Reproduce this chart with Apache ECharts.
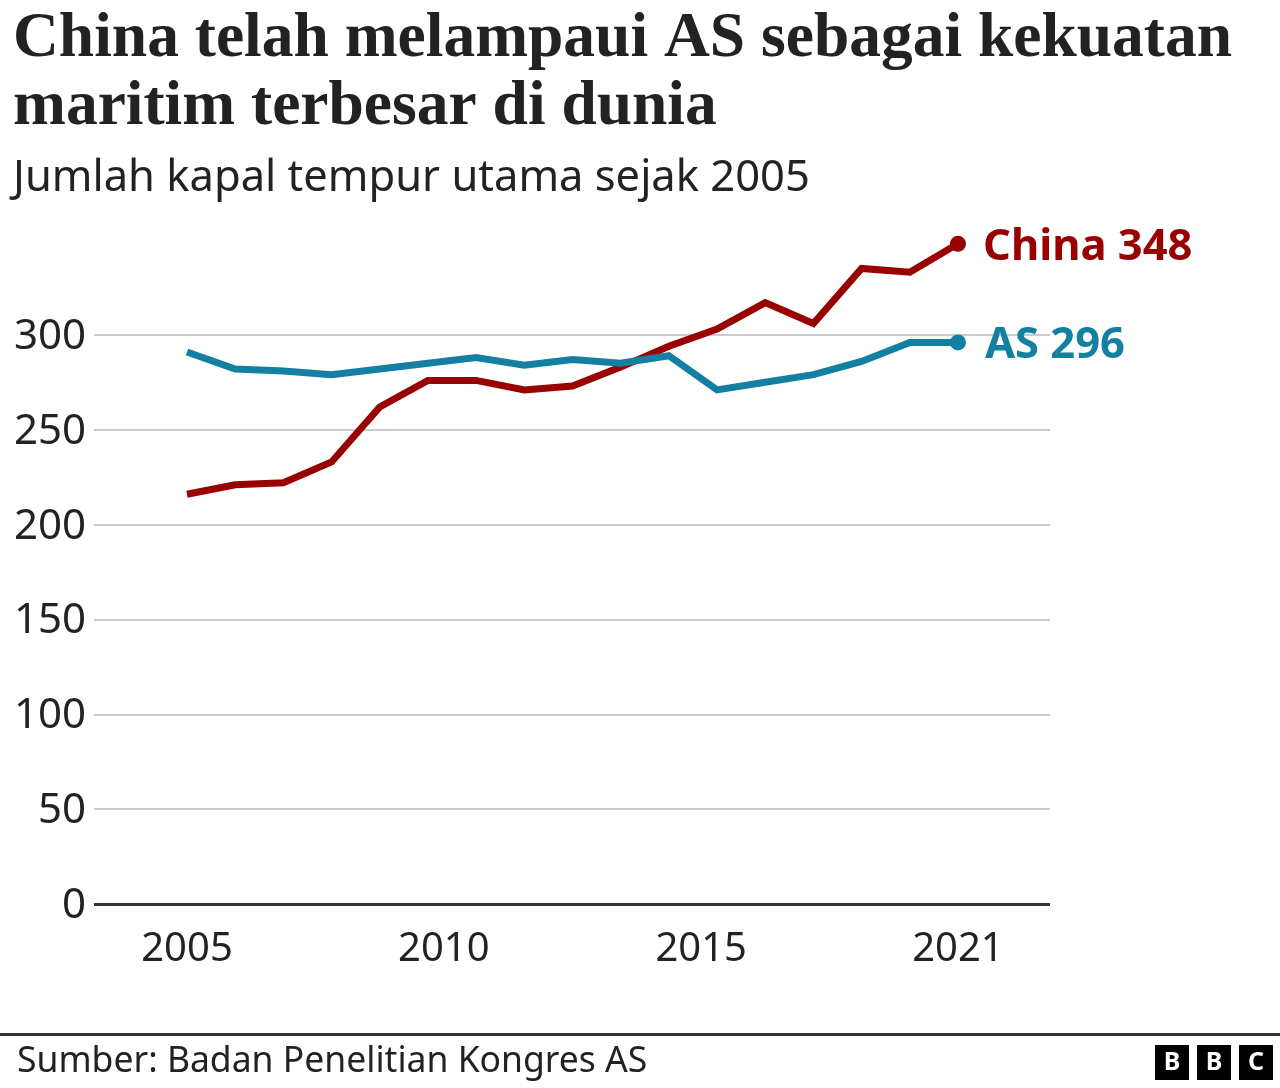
<!DOCTYPE html>
<html>
<head>
<meta charset="utf-8">
<style>
  html, body { margin: 0; padding: 0; background: #fff; }
  #chart { width: 1280px; height: 1088px; }
</style>
<script src="https://cdn.jsdelivr.net/npm/echarts@6/dist/echarts.min.js"></script>
</head>
<body>
<div id="chart"></div>
<script>
const years = [2005, 2006, 2007, 2008, 2009, 2010, 2011, 2012, 2013, 2014, 2015, 2016, 2017, 2018, 2019, 2020, 2021]
const china = [216, 221, 222, 233, 262, 276, 276, 271, 273, 283, 294, 303, 317, 306, 335, 333, 348]
const us = [291, 282, 281, 279, 282, 285, 288, 284, 287, 285, 289, 271, 275, 279, 286, 296, 296]
// the labels in the original are evenly spaced, so 2010 and 2015 don't sit on their own points
const xTickValues = [2005, 2010.33, 2015.67, 2021]
const xTickLabels = ['2005', '2010', '2015', '2021']

const sans = '"Noto Sans", sans-serif'
const serif = '"Liberation Serif", serif'
const dark = '#222222'
const red = '#990000'
const blue = '#1380A1'

function pairs(values) {
  return values.map((v, i) => [years[i], v])
}

function lineSeries(name, values, color, offset) {
  return {
    name,
    type: 'line',
    data: pairs(values),
    clip: false,
    silent: true,
    showSymbol: true,
    symbol: 'circle',
    symbolSize: (v, p) => (p.dataIndex === values.length - 1 ? 16 : 0),
    lineStyle: { color, width: 7, cap: 'butt', join: 'miter' },
    itemStyle: { color },
    endLabel: {
      show: true,
      formatter: name + ' ' + values[values.length - 1],
      color,
      fontFamily: sans,
      fontWeight: 'bold',
      fontSize: 43.5,
      offset
    }
  }
}

const logo = ['B', 'B', 'C'].map((ch, i) => ({
  type: 'group',
  left: 1155 + i * 42,
  top: 1045,
  children: [
    { type: 'rect', shape: { x: 0, y: 0, width: 34, height: 35 }, style: { fill: '#000' } },
    { type: 'text', x: 17, y: 18, style: { text: ch, fill: '#fff', font: 'bold 25px ' + sans, align: 'center', verticalAlign: 'middle' } }
  ]
}))

const myChart = echarts.init(document.getElementById('chart'), null, { renderer: 'canvas' })
myChart.setOption({
  animation: false,
  backgroundColor: '#fff',
  title: [
    {
      text: 'China telah melampaui AS sebagai kekuatan\nmaritim terbesar di dunia',
      left: 13, top: 6, padding: 0,
      textStyle: { fontFamily: serif, fontWeight: 'bold', fontSize: 63.5, lineHeight: 68, color: dark }
    },
    {
      text: 'Jumlah kapal tempur utama sejak 2005',
      left: 13, top: 151, padding: 0,
      textStyle: { fontFamily: sans, fontWeight: 'normal', fontSize: 43.5, lineHeight: 56, color: dark }
    },
    {
      text: 'Sumber: Badan Penelitian Kongres AS',
      left: 17, top: 1039, padding: 0,
      textStyle: { fontFamily: sans, fontWeight: 'normal', fontSize: 35.5, lineHeight: 46, color: dark }
    }
  ],
  grid: { left: 94, right: 230, top: 240, height: 664 },
  xAxis: {
    type: 'value',
    min: 2003.07,
    max: 2022.91,
    splitLine: { show: false },
    axisLine: { show: false },
    axisTick: { show: false },
    axisLabel: {
      customValues: xTickValues,
      formatter: v => xTickLabels[xTickValues.indexOf(v)],
      color: dark,
      fontFamily: sans,
      fontSize: 40,
      margin: 26
    }
  },
  yAxis: {
    type: 'value',
    min: 0,
    max: 350,
    interval: 50,
    axisLine: { show: false },
    axisTick: { show: false },
    splitLine: { show: true, showMaxLine: false, lineStyle: { color: '#cccccc', width: 2 } },
    axisLabel: {
      showMaxLabel: false,
      margin: 8,
      formatter: '{t|{value}}',
      rich: { t: { color: dark, fontFamily: sans, fontSize: 42, padding: [4, 0, 0, 0] } }
    }
  },
  series: [
    lineSeries('China', china, red, [17, 4]),
    lineSeries('AS', us, blue, [19, 3]),
    {
      // heavy baseline at zero
      type: 'line',
      data: [],
      silent: true,
      markLine: {
        silent: true,
        symbol: 'none',
        label: { show: false },
        lineStyle: { color: '#333333', width: 3, type: 'solid' },
        data: [{ yAxis: 0 }]
      }
    }
  ],
  graphic: [
    { type: 'rect', shape: { x: 0, y: 1033, width: 1280, height: 3 }, style: { fill: '#333333' } },
    ...logo
  ]
})
</script>
</body>
</html>
